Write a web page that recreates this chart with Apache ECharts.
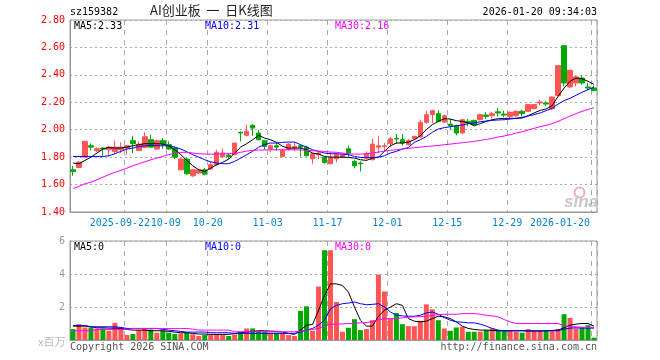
<!DOCTYPE html>
<html><head><meta charset="utf-8">
<script src="https://cdn.jsdelivr.net/npm/echarts@6/dist/echarts.min.js"></script>
<style>html,body{margin:0;padding:0;background:#fff}#c{width:660px;height:360px}</style>
</head><body><div id="c"></div>
<script>
const dates = [
'2025-09-09','2025-09-10','2025-09-11','2025-09-12','2025-09-15','2025-09-16','2025-09-17','2025-09-18','2025-09-19','2025-09-22','2025-09-23','2025-09-24','2025-09-25','2025-09-26','2025-09-29','2025-09-30',
'2025-10-09','2025-10-10','2025-10-13','2025-10-14','2025-10-15','2025-10-16','2025-10-17','2025-10-20','2025-10-21','2025-10-22','2025-10-23','2025-10-24','2025-10-27','2025-10-28','2025-10-29','2025-10-30','2025-10-31',
'2025-11-03','2025-11-04','2025-11-05','2025-11-06','2025-11-07','2025-11-10','2025-11-11','2025-11-12','2025-11-13','2025-11-14','2025-11-17','2025-11-18','2025-11-19','2025-11-20','2025-11-21','2025-11-24','2025-11-25','2025-11-26','2025-11-27','2025-11-28',
'2025-12-01','2025-12-02','2025-12-03','2025-12-04','2025-12-05','2025-12-08','2025-12-09','2025-12-10','2025-12-11','2025-12-12','2025-12-15','2025-12-16','2025-12-17','2025-12-18','2025-12-19','2025-12-22','2025-12-23','2025-12-24','2025-12-25','2025-12-26','2025-12-29','2025-12-30','2025-12-31',
'2026-01-05','2026-01-06','2026-01-07','2026-01-08','2026-01-09','2026-01-12','2026-01-13','2026-01-14','2026-01-15','2026-01-16','2026-01-19','2026-01-20'];

// [open, close, low, high]
const ohlc = [
[1.708,1.696,1.664,1.737],[1.725,1.764,1.720,1.769],[1.800,1.915,1.800,1.920],[1.883,1.873,1.849,1.900],[1.847,1.861,1.837,1.871],
[1.866,1.859,1.810,1.873],[1.854,1.873,1.805,1.883],[1.842,1.873,1.822,1.920],[1.854,1.873,1.830,1.908],[1.866,1.883,1.818,1.883],
[1.920,1.898,1.830,1.956],[1.849,1.895,1.847,1.915],[1.871,1.949,1.866,1.981],[1.927,1.873,1.871,1.964],[1.859,1.920,1.854,1.927],
[1.920,1.895,1.861,1.939],[1.891,1.859,1.854,1.915],[1.866,1.800,1.786,1.878],[1.708,1.786,1.703,1.793],[1.786,1.679,1.672,1.793],
[1.664,1.708,1.655,1.708],[1.684,1.708,1.679,1.715],[1.708,1.676,1.667,1.720],[1.713,1.745,1.708,1.769],[1.745,1.835,1.737,1.854],
[1.805,1.830,1.793,1.864],[1.815,1.805,1.786,1.830],[1.818,1.903,1.813,1.903],[1.981,1.976,1.915,1.988],[1.959,1.988,1.951,2.037],
[2.032,2.012,1.956,2.041],[1.976,1.927,1.922,2.000],[1.920,1.878,1.854,1.927],[1.859,1.883,1.835,1.891],[1.883,1.873,1.847,1.903],
[1.805,1.849,1.800,1.854],[1.854,1.895,1.849,1.903],[1.866,1.878,1.842,1.908],[1.883,1.873,1.805,1.891],[1.873,1.810,1.805,1.883],
[1.788,1.825,1.752,1.830],[1.818,1.830,1.786,1.842],[1.798,1.762,1.752,1.805],[1.752,1.800,1.747,1.837],[1.788,1.818,1.762,1.830],
[1.800,1.818,1.793,1.822],[1.861,1.830,1.800,1.883],[1.769,1.737,1.718,1.781],[1.757,1.752,1.696,1.769],[1.793,1.825,1.781,1.842],
[1.781,1.895,1.776,1.934],[1.873,1.883,1.830,1.956],[1.878,1.883,1.842,1.903],[1.898,1.934,1.873,1.947],[1.937,1.932,1.898,1.968],
[1.927,1.903,1.883,1.968],[1.891,1.920,1.883,1.932],[1.934,1.951,1.927,1.956],[1.947,2.054,1.939,2.073],[2.054,2.110,2.044,2.139],
[2.110,2.139,2.049,2.146],[2.117,2.061,2.054,2.141],[2.056,2.102,2.049,2.110],[2.041,2.029,2.000,2.078],[2.029,1.976,1.959,2.037],
[1.976,2.073,1.971,2.078],[2.061,2.049,2.024,2.078],[2.068,2.037,2.029,2.073],[2.073,2.110,2.068,2.117],[2.107,2.097,2.078,2.127],
[2.102,2.117,2.085,2.129],[2.131,2.122,2.097,2.158],[2.114,2.107,2.093,2.139],[2.097,2.127,2.085,2.134],[2.102,2.134,2.093,2.141],
[2.134,2.117,2.097,2.146],[2.134,2.183,2.129,2.187],[2.153,2.183,2.151,2.187],[2.195,2.202,2.178,2.219],[2.195,2.187,2.170,2.207],
[2.153,2.238,2.146,2.243],[2.248,2.467,2.243,2.467],[2.613,2.341,2.316,2.613],[2.312,2.433,2.304,2.438],[2.341,2.385,2.316,2.394],
[2.377,2.341,2.329,2.394],[2.312,2.304,2.287,2.341],[2.304,2.287,2.280,2.321]];

const ma5 = [1.757,1.752,1.776,1.800,1.830,1.859,1.871,1.866,1.866,1.873,
1.883,1.891,1.898,1.898,1.898,1.895,1.883,1.854,1.818,1.776,
1.737,1.708,1.696,1.720,1.745,1.762,1.786,1.830,1.873,1.898,
1.927,1.959,1.939,1.927,1.908,1.878,1.866,1.866,1.866,1.854,
1.830,1.822,1.805,1.800,1.800,1.800,1.798,1.793,1.781,1.776,
1.793,1.800,1.842,1.883,1.903,1.903,1.910,1.927,1.956,2.000,
2.037,2.061,2.080,2.078,2.066,2.061,2.049,2.029,2.044,2.061,
2.073,2.080,2.083,2.083,2.083,2.085,2.102,2.122,2.141,2.151,
2.175,2.243,2.304,2.353,2.377,2.372,2.353,2.330];
const ma10 = [1.805,1.805,1.805,1.805,1.805,1.805,1.810,1.825,1.842,1.859,
1.866,1.878,1.883,1.886,1.883,1.883,1.883,1.873,1.859,1.840,
1.818,1.800,1.781,1.766,1.757,1.752,1.752,1.769,1.793,1.818,
1.842,1.873,1.891,1.903,1.903,1.908,1.910,1.910,1.891,1.873,
1.854,1.842,1.830,1.825,1.825,1.822,1.818,1.805,1.798,1.796,
1.796,1.800,1.810,1.830,1.842,1.859,1.870,1.908,1.927,1.951,
1.981,2.005,2.015,2.022,2.029,2.034,2.044,2.049,2.058,2.063,
2.068,2.071,2.073,2.078,2.083,2.090,2.100,2.110,2.122,2.139,
2.156,2.187,2.212,2.229,2.251,2.273,2.292,2.310];
const ma30 = [1.572,1.586,1.606,1.618,1.635,1.655,1.672,1.689,1.703,1.720,
1.737,1.752,1.766,1.781,1.793,1.805,1.818,1.830,1.835,1.835,
1.830,1.825,1.822,1.822,1.822,1.825,1.825,1.827,1.835,1.844,
1.849,1.852,1.852,1.854,1.854,1.854,1.854,1.854,1.852,1.849,
1.847,1.844,1.842,1.837,1.835,1.830,1.825,1.822,1.822,1.825,
1.830,1.837,1.844,1.849,1.854,1.859,1.864,1.869,1.873,1.878,
1.881,1.886,1.891,1.895,1.900,1.905,1.910,1.915,1.922,1.929,
1.937,1.947,1.954,1.964,1.976,1.985,1.998,2.010,2.022,2.032,
2.044,2.061,2.080,2.100,2.117,2.134,2.148,2.160];

// volume, x million
const vol = [0.66,0.96,0.76,0.76,0.70,0.70,0.56,1.04,0.76,0.30,
0.36,0.60,0.70,0.64,0.44,0.56,0.44,0.36,0.40,0.44,
0.34,0.24,0.30,0.30,0.36,0.30,0.24,0.34,0.50,0.70,
0.70,0.56,0.50,0.44,0.44,0.40,0.30,0.24,1.76,2.04,
0.56,3.24,5.44,5.44,2.30,0.50,0.74,1.26,0.60,0.66,
1.20,3.96,2.94,1.30,1.64,0.96,0.84,0.84,1.16,2.16,
1.86,1.20,0.70,0.56,0.76,0.80,0.50,0.50,0.50,0.60,
0.70,0.60,0.60,0.56,0.50,0.44,0.66,0.56,0.56,0.56,
0.56,0.66,1.56,1.34,0.70,0.76,0.90,0.14];
const vma5 = [0.84,0.84,0.84,0.80,0.74,0.74,0.72,0.72,0.70,0.64,
0.60,0.60,0.60,0.56,0.56,0.56,0.52,0.48,0.44,0.44,
0.40,0.36,0.36,0.34,0.34,0.34,0.34,0.40,0.44,0.48,
0.52,0.56,0.56,0.54,0.52,0.48,0.40,0.34,0.60,0.90,
0.94,1.80,2.70,3.40,3.40,3.30,2.90,2.00,1.20,0.84,
0.84,1.44,1.80,2.00,2.20,2.10,1.30,1.14,1.10,1.14,
1.30,1.44,1.40,1.30,1.10,0.84,0.70,0.64,0.60,0.60,
0.58,0.56,0.56,0.56,0.56,0.56,0.54,0.54,0.54,0.56,
0.58,0.60,0.74,0.90,0.96,1.00,1.00,0.84];
const vma10 = [0.88,0.88,0.88,0.80,0.80,0.80,0.80,0.80,0.76,0.70,
0.70,0.70,0.70,0.70,0.70,0.64,0.60,0.56,0.52,0.48,
0.48,0.48,0.48,0.44,0.44,0.44,0.44,0.40,0.40,0.40,
0.40,0.40,0.40,0.40,0.40,0.40,0.40,0.40,0.48,0.60,
0.70,0.90,1.20,1.90,2.10,2.20,2.24,2.30,2.20,2.14,
2.16,2.20,2.00,1.70,1.50,1.46,1.44,1.44,1.50,1.64,
1.70,1.56,1.36,1.20,1.10,1.08,1.04,1.04,0.96,0.84,
0.70,0.60,0.56,0.56,0.56,0.56,0.56,0.56,0.56,0.56,
0.56,0.56,0.66,0.72,0.74,0.72,0.72,0.72];
const vma30 = [0.56,0.56,0.56,0.56,0.64,0.64,0.64,0.64,0.64,0.64,
0.70,0.70,0.70,0.70,0.70,0.70,0.70,0.70,0.70,0.70,
0.66,0.60,0.60,0.60,0.60,0.60,0.60,0.50,0.50,0.50,
0.50,0.50,0.50,0.50,0.50,0.50,0.50,0.50,0.52,0.60,
0.64,0.70,0.84,0.96,0.96,0.98,1.00,1.00,1.04,1.06,
1.12,1.24,1.28,1.30,1.30,1.34,1.38,1.40,1.42,1.44,
1.48,1.54,1.56,1.56,1.56,1.60,1.60,1.60,1.56,1.50,
1.46,1.40,1.24,1.10,1.00,1.00,1.00,1.00,1.00,1.00,
1.00,1.00,0.86,0.82,0.80,0.78,0.76,0.76];

const priceTicks = {min: 1.4, max: 2.8, interval: 0.2};
const volTicks = {min: 0, max: 6, interval: 2};
const labelIdx = [9,16,23,33,43,53,63,73,87];

const UP = '#ff5555', DOWN = '#00a800';
const MONO = 'DejaVu Sans Mono';
const GRID_LINE = '#aaaaaa';
const chart = echarts.init(document.getElementById('c'), null, {renderer: 'canvas'});

function xAxisBase(gridIndex, showLabel) {
  return {
    type: 'category', data: dates, gridIndex, boundaryGap: true,
    axisLine: {show: true, lineStyle: {color: '#999'}},
    axisTick: {show: false},
    splitLine: {show: true, interval: (i) => labelIdx.includes(i), lineStyle: {color: GRID_LINE, type: [5, 5], width: 1}},
    axisLabel: showLabel ? {
      show: true, interval: (i) => labelIdx.includes(i), margin: 6,
      fontFamily: MONO, fontSize: 10, color: '#0a84c8',
      formatter: (v, i) => {
        if (i === 9) return '{f|' + v + '}';
        if (i === 87) return '{l|' + v + '}';
        return '{n|' + v.slice(5) + '}';
      },
      rich: {
        f: {fontFamily: MONO, fontSize: 10, color: '#0a84c8', padding: [0, 14, 0, 0]},
        n: {fontFamily: MONO, fontSize: 10, color: '#0a84c8', padding: [0, 6, 0, 0]},
        l: {fontFamily: MONO, fontSize: 10, color: '#0a84c8', padding: [0, 68, 0, 0]}
      }
    } : {show: false}
  };
}

const lineS = (name, data, color, xi, yi) => ({
  name, type: 'line', data, xAxisIndex: xi, yAxisIndex: yi, showSymbol: false, symbol: 'none',
  lineStyle: {color, width: 1}, itemStyle: {color}, silent: true, z: 3
});

const txt = (text, pos, color, font) => Object.assign({type: 'text', style: {text, fill: color, font: font || ('10px ' + MONO)}}, pos);

chart.setOption({
  animation: false,
  backgroundColor: '#fff',
  grid: [
    {left: 70, top: 20, width: 527, height: 192, show: true, borderColor: '#999', borderWidth: 1, backgroundColor: 'transparent'},
    {left: 70, top: 241, width: 527, height: 99, show: true, borderColor: '#999', borderWidth: 1, backgroundColor: 'transparent'}
  ],
  xAxis: [xAxisBase(0, true), xAxisBase(1, false)],
  yAxis: [
    {type: 'value', gridIndex: 0, min: priceTicks.min, max: priceTicks.max, interval: priceTicks.interval,
     axisLine: {show: true, lineStyle: {color: '#999'}}, axisTick: {show: false},
     splitLine: {show: true, lineStyle: {color: GRID_LINE, type: [2, 3]}},
     axisLabel: {fontFamily: MONO, fontSize: 10, color: '#ff0000', margin: 5, formatter: v => v.toFixed(2)}},
    {type: 'value', gridIndex: 1, min: volTicks.min, max: volTicks.max, interval: volTicks.interval,
     axisLine: {show: true, lineStyle: {color: '#999'}}, axisTick: {show: false},
     splitLine: {show: true, lineStyle: {color: GRID_LINE, type: [2, 3]}},
     axisLabel: {fontFamily: MONO, fontSize: 10, color: '#999', margin: 5, formatter: v => v === 0 ? '' : String(v)}}
  ],
  series: [
    {name: 'K', type: 'candlestick', data: ohlc, xAxisIndex: 0, yAxisIndex: 0, barWidth: 5, silent: true,
     itemStyle: {color: UP, color0: DOWN, borderColor: UP, borderColor0: DOWN, borderWidth: 1}},
    lineS('MA5', ma5, '#000000', 0, 0),
    lineS('MA10', ma10, '#0000ff', 0, 0),
    lineS('MA30', ma30, '#ff00ff', 0, 0),
    {name: 'VOL', type: 'bar', data: vol.map((v, i) => ({value: v, itemStyle: {color: ohlc[i][1] >= ohlc[i][0] ? UP : DOWN}})),
     xAxisIndex: 1, yAxisIndex: 1, barWidth: 5, silent: true},
    lineS('VMA5', vma5, '#000000', 1, 1),
    lineS('VMA10', vma10, '#0000ff', 1, 1),
    lineS('VMA30', vma30, '#ff00ff', 1, 1)
  ],
  graphic: [
    txt('sz159382', {left: 70, top: 7}, '#000'),
    txt('AI创业板  一  日K线图', {left: 150, top: 4}, '#222', '13px "Noto Sans CJK SC"'),
    txt('2026-01-20 09:34:03', {right: 63, top: 7}, '#000'),
    txt('MA5:2.33', {left: 74, top: 21}, '#000'),
    txt('MA10:2.31', {left: 205, top: 21}, '#0000ff'),
    txt('MA30:2.16', {left: 335, top: 21}, '#ff00ff'),
    txt('MA5:0', {left: 74, top: 242}, '#000'),
    txt('MA10:0', {left: 205, top: 242}, '#0000ff'),
    txt('MA30:0', {left: 335, top: 242}, '#ff00ff'),
    txt('x百万', {left: 38, top: 336}, '#bbb', '11px "Noto Sans CJK SC"'),
    txt('Copyright 2026 SINA.COM', {left: 70, top: 342}, '#555'),
    txt('http://finance.sina.com.cn', {right: 63, top: 342}, '#555'),
    {type: 'circle', left: 572, top: 185, shape: {r: 5}, style: {fill: 'none', stroke: '#f4b0b0', lineWidth: 2}, silent: true},
    txt('sina', {left: 564, top: 194}, '#c8c8c8', 'italic bold 17px "Liberation Sans"')
  ]
});
</script></body></html>
